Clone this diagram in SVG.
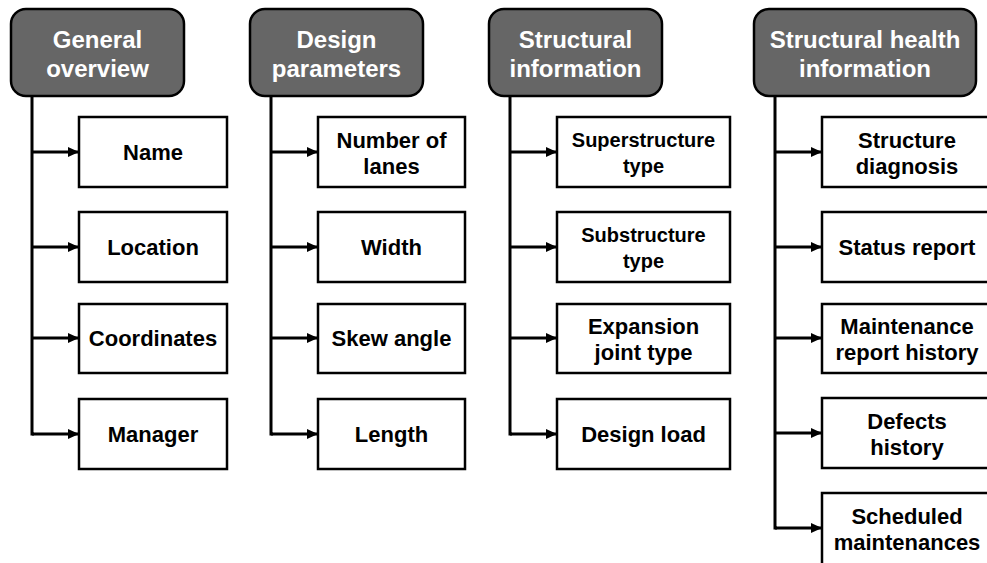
<svg xmlns="http://www.w3.org/2000/svg" width="987" height="563" viewBox="0 0 987 563">
  <defs>
    <marker id="arrow" viewBox="0 0 11 10" refX="11" refY="5" markerWidth="11" markerHeight="10" orient="auto" markerUnits="userSpaceOnUse">
      <path d="M0,0 L11,5 L0,10 Z" fill="#000"/>
    </marker>
    <style>
      .head rect { fill: #666; stroke: #000; stroke-width: 2.5; }
      .head text { fill: #fff; font-family: "Liberation Sans", Arial, sans-serif; font-weight: bold; font-size: 24px; text-anchor: middle; }
      .item rect { fill: #fff; stroke: #000; stroke-width: 2.5; }
      .item text { fill: #000; font-family: "Liberation Sans", Arial, sans-serif; font-weight: bold; font-size: 22px; text-anchor: middle; }
      .item text.sm { font-size: 20px; }
      .wire { fill: none; stroke: #000; stroke-width: 3; }
      .tap { fill: none; stroke: #000; stroke-width: 3; marker-end: url(#arrow); }
    </style>
  </defs>
  <rect width="987" height="563" fill="#fff"/>

  <!-- connectors: one trunk per column, one tap per item -->
  <g id="connectors">
    <path class="wire" d="M32,96 V434 H34"/>
    <path class="tap" d="M32,152 H79"/>
    <path class="tap" d="M32,247 H79"/>
    <path class="tap" d="M32,338 H79"/>
    <path class="tap" d="M32,434 H79"/>

    <path class="wire" d="M271,96 V434 H273"/>
    <path class="tap" d="M271,152 H318"/>
    <path class="tap" d="M271,247 H318"/>
    <path class="tap" d="M271,338 H318"/>
    <path class="tap" d="M271,434 H318"/>

    <path class="wire" d="M510,96 V434 H512"/>
    <path class="tap" d="M510,152 H557"/>
    <path class="tap" d="M510,247 H557"/>
    <path class="tap" d="M510,338 H557"/>
    <path class="tap" d="M510,434 H557"/>

    <path class="wire" d="M775,96 V528 H777"/>
    <path class="tap" d="M775,152 H822"/>
    <path class="tap" d="M775,247 H822"/>
    <path class="tap" d="M775,338 H822"/>
    <path class="tap" d="M775,433 H822"/>
    <path class="tap" d="M775,528 H822"/>
  </g>

  <!-- column 1 -->
  <g id="general-overview" class="head">
    <rect x="11" y="9" width="173" height="87" rx="15"/>
    <text x="97.5" y="48">General</text>
    <text x="97.5" y="77">overview</text>
  </g>
  <g id="name" class="item"><rect x="79" y="117" width="148" height="70"/><text x="153" y="160">Name</text></g>
  <g id="location" class="item"><rect x="79" y="212" width="148" height="70"/><text x="153" y="255">Location</text></g>
  <g id="coordinates" class="item"><rect x="79" y="304" width="148" height="69"/><text x="153" y="346">Coordinates</text></g>
  <g id="manager" class="item"><rect x="79" y="399" width="148" height="70"/><text x="153" y="442">Manager</text></g>

  <!-- column 2 -->
  <g id="design-parameters" class="head">
    <rect x="250" y="9" width="173" height="87" rx="15"/>
    <text x="336.5" y="48">Design</text>
    <text x="336.5" y="77">parameters</text>
  </g>
  <g id="number-of-lanes" class="item"><rect x="318" y="117" width="147" height="70"/><text x="391.5" y="147.5">Number of</text><text x="391.5" y="173.5">lanes</text></g>
  <g id="width" class="item"><rect x="318" y="212" width="147" height="70"/><text x="391.5" y="255">Width</text></g>
  <g id="skew-angle" class="item"><rect x="318" y="304" width="147" height="69"/><text x="391.5" y="346">Skew angle</text></g>
  <g id="length" class="item"><rect x="318" y="399" width="147" height="70"/><text x="391.5" y="442">Length</text></g>

  <!-- column 3 -->
  <g id="structural-information" class="head">
    <rect x="489" y="9" width="173" height="87" rx="15"/>
    <text x="575.5" y="48">Structural</text>
    <text x="575.5" y="77">information</text>
  </g>
  <g id="superstructure-type" class="item"><rect x="557" y="117" width="173" height="70"/><text class="sm" x="643.5" y="146.5">Superstructure</text><text class="sm" x="643.5" y="172.5">type</text></g>
  <g id="substructure-type" class="item"><rect x="557" y="212" width="173" height="70"/><text class="sm" x="643.5" y="241.5">Substructure</text><text class="sm" x="643.5" y="267.5">type</text></g>
  <g id="expansion-joint-type" class="item"><rect x="557" y="304" width="173" height="69"/><text x="643.5" y="333.5">Expansion</text><text x="643.5" y="359.5">joint type</text></g>
  <g id="design-load" class="item"><rect x="557" y="399" width="173" height="70"/><text x="643.5" y="442">Design load</text></g>

  <!-- column 4 -->
  <g id="structural-health-information" class="head">
    <rect x="754" y="9" width="222" height="87" rx="15"/>
    <text x="865" y="48">Structural health</text>
    <text x="865" y="77">information</text>
  </g>
  <g id="structure-diagnosis" class="item"><rect x="822" y="117" width="172" height="70"/><text x="907" y="147.5">Structure</text><text x="907" y="173.5">diagnosis</text></g>
  <g id="status-report" class="item"><rect x="822" y="212" width="172" height="70"/><text x="907" y="255">Status report</text></g>
  <g id="maintenance-report-history" class="item"><rect x="822" y="304" width="172" height="69"/><text x="907" y="333.5">Maintenance</text><text x="907" y="359.5">report history</text></g>
  <g id="defects-history" class="item"><rect x="822" y="398" width="172" height="70"/><text x="907" y="428.5">Defects</text><text x="907" y="454.5">history</text></g>
  <g id="scheduled-maintenances" class="item"><rect x="822" y="493" width="172" height="80"/><text x="907" y="523.5">Scheduled</text><text x="907" y="549.5">maintenances</text></g>
</svg>
